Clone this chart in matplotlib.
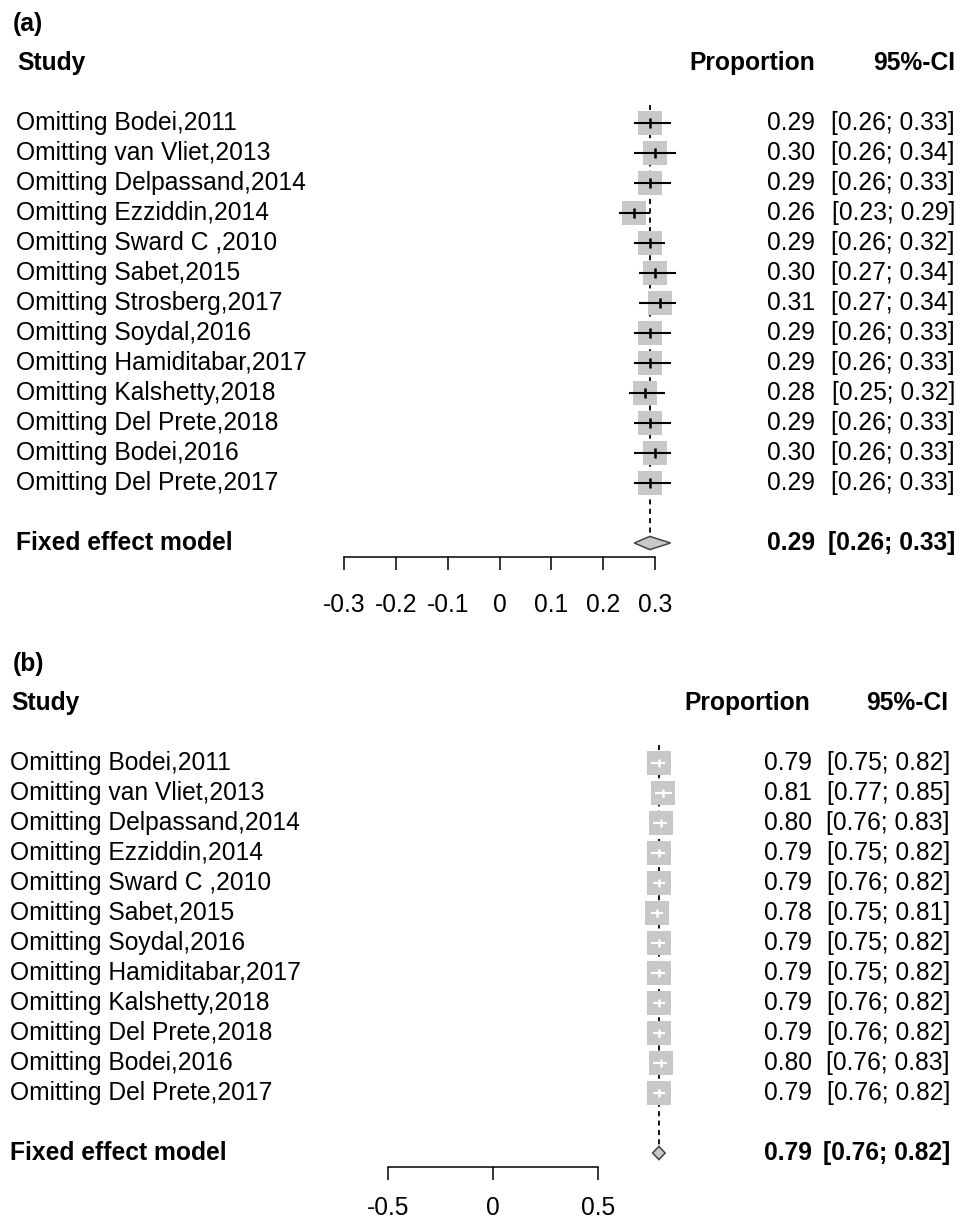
import matplotlib
matplotlib.use("Agg")

import matplotlib.pyplot as plt
from matplotlib import transforms
import numpy as np

plt.rcParams["font.family"] = ["Liberation Sans", "DejaVu Sans"]

# ---------------------------------------------------------------
# data, panel (a)

studies_a = [
    "Omitting Bodei,2011",
    "Omitting van Vliet,2013",
    "Omitting Delpassand,2014",
    "Omitting Ezziddin,2014",
    "Omitting Sward C ,2010",
    "Omitting Sabet,2015",
    "Omitting Strosberg,2017",
    "Omitting Soydal,2016",
    "Omitting Hamiditabar,2017",
    "Omitting Kalshetty,2018",
    "Omitting Del Prete,2018",
    "Omitting Bodei,2016",
    "Omitting Del Prete,2017",
]
prop_a = [0.29, 0.30, 0.29, 0.26, 0.29, 0.30, 0.31, 0.29, 0.29, 0.28, 0.29, 0.30, 0.29]
lower_a = [0.26, 0.26, 0.26, 0.23, 0.26, 0.27, 0.27, 0.26, 0.26, 0.25, 0.26, 0.26, 0.26]
upper_a = [0.33, 0.34, 0.33, 0.29, 0.32, 0.34, 0.34, 0.33, 0.33, 0.32, 0.33, 0.33, 0.33]
fixed_a = [0.29, 0.26, 0.33]
ticks_a = [-0.3, -0.2, -0.1, 0, 0.1, 0.2, 0.3]
ticklabels_a = ["-0.3", "-0.2", "-0.1", "0", "0.1", "0.2", "0.3"]

# data, panel (b)

studies_b = [
    "Omitting Bodei,2011",
    "Omitting van Vliet,2013",
    "Omitting Delpassand,2014",
    "Omitting Ezziddin,2014",
    "Omitting Sward C ,2010",
    "Omitting Sabet,2015",
    "Omitting Soydal,2016",
    "Omitting Hamiditabar,2017",
    "Omitting Kalshetty,2018",
    "Omitting Del Prete,2018",
    "Omitting Bodei,2016",
    "Omitting Del Prete,2017",
]
prop_b = [0.79, 0.81, 0.80, 0.79, 0.79, 0.78, 0.79, 0.79, 0.79, 0.79, 0.80, 0.79]
lower_b = [0.75, 0.77, 0.76, 0.75, 0.76, 0.75, 0.75, 0.75, 0.76, 0.76, 0.76, 0.76]
upper_b = [0.82, 0.85, 0.83, 0.82, 0.82, 0.81, 0.82, 0.82, 0.82, 0.82, 0.83, 0.82]
fixed_b = [0.79, 0.76, 0.82]
ticks_b = [-0.5, 0, 0.5]
ticklabels_b = ["-0.5", "0", "0.5"]

# ---------------------------------------------------------------

W, H = 970, 1224
FS = 17.7
GREY = "#c8c8c8"
BOX_PX = 24


def forest(fig, tag, studies, prop, lower, upper, fixed, ticks, ticklabels,
           top, bottom, zero_px, unit_px, row0_px,
           label_x, value_x, ci_x, head_value_x, head_ci_x, tick_pad):

    row_px = 30.0

    ax = fig.add_axes([0, 1 - bottom / H, 1, (bottom - top) / H])

    ax.set_xlim(-zero_px / unit_px, (W - zero_px) / unit_px)
    ax.set_ylim((bottom - row0_px) / row_px, (top - row0_px) / row_px)

    for side in ["top", "left", "right"]:
        ax.spines[side].set_visible(False)
    ax.set_yticks([])
    ax.patch.set_alpha(0)

    tr = transforms.blended_transform_factory(ax.transAxes, ax.transData)

    rows = np.arange(len(studies))
    prop = np.array(prop)
    lower = np.array(lower)
    upper = np.array(upper)
    fixed_row = len(studies) + 1

    # reference line at the pooled estimate
    ax.vlines(fixed[0], -0.6, fixed_row - 0.25, colors="black",
              linewidth=1.3, linestyles=(0, (2.8, 2.4)), zorder=1)

    # study boxes
    ax.scatter(prop, rows, marker="s", s=(BOX_PX * 0.72) ** 2,
               color=GREY, linewidths=0, zorder=2)

    half = BOX_PX / 2 / unit_px
    inside = ((prop - lower) < half) & ((upper - prop) < half)
    colors = np.where(inside, "white", "black")

    ax.hlines(rows, lower, upper, colors=colors, linewidth=1.5, zorder=3)
    tick_h = np.where(inside, 0.12, 0.16)
    ax.vlines(prop, rows - tick_h, rows + tick_h, colors=colors,
              linewidth=1.8, zorder=3)

    # pooled diamond
    ax.fill([fixed[1], fixed[0], fixed[2], fixed[0]],
            [fixed_row, fixed_row - 0.22, fixed_row, fixed_row + 0.22],
            facecolor=GREY, edgecolor="#444444", linewidth=1.1, zorder=3)

    # x axis under the pooled estimate
    ax.spines["bottom"].set_position(("data", fixed_row + 0.47))
    ax.spines["bottom"].set_bounds(ticks[0], ticks[-1])
    ax.spines["bottom"].set_linewidth(1.1)
    ax.set_xticks(ticks)
    ax.set_xticklabels(ticklabels, fontsize=FS)
    ax.tick_params(axis="x", direction="out", length=9.5, width=1.1,
                   pad=tick_pad)

    # text columns
    ax.text(13 / W, -3.3, tag, transform=tr, fontsize=FS,
            fontweight="bold", va="center", ha="left")
    ax.text((label_x + 1) / W, -2, "Study", transform=tr, fontsize=FS,
            fontweight="bold", va="center", ha="left")
    ax.text(head_value_x / W, -2, "Proportion", transform=tr, fontsize=FS,
            fontweight="bold", va="center", ha="right")
    ax.text(head_ci_x / W, -2, "95%-CI", transform=tr, fontsize=FS,
            fontweight="bold", va="center", ha="right")

    for r, name, p, lo, hi in zip(rows, studies, prop, lower, upper):
        ax.text(label_x / W, r, name, transform=tr, fontsize=FS,
                va="center", ha="left")
        ax.text(value_x / W, r, f"{p:.2f}", transform=tr, fontsize=FS,
                va="center", ha="right")
        ax.text(ci_x / W, r, f"[{lo:.2f}; {hi:.2f}]", transform=tr,
                fontsize=FS, va="center", ha="right")

    ax.text(label_x / W, fixed_row, "Fixed effect model", transform=tr,
            fontsize=FS, fontweight="bold", va="center", ha="left")
    ax.text(value_x / W, fixed_row, f"{fixed[0]:.2f}", transform=tr,
            fontsize=FS, fontweight="bold", va="center", ha="right")
    ax.text(ci_x / W, fixed_row, f"[{fixed[1]:.2f}; {fixed[2]:.2f}]",
            transform=tr, fontsize=FS, fontweight="bold", va="center",
            ha="right")

    return ax


fig = plt.figure(figsize=(W / 100, H / 100), dpi=100)

forest(fig, "(a)", studies_a, prop_a, lower_a, upper_a, fixed_a,
       ticks_a, ticklabels_a,
       top=0, bottom=640, zero_px=499.5, unit_px=518.3, row0_px=123,
       label_x=16, value_x=815, ci_x=955, head_value_x=815, head_ci_x=955,
       tick_pad=16)

forest(fig, "(b)", studies_b, prop_b, lower_b, upper_b, fixed_b,
       ticks_b, ticklabels_b,
       top=640, bottom=1224, zero_px=493, unit_px=210, row0_px=763,
       label_x=10, value_x=812, ci_x=950, head_value_x=810, head_ci_x=948,
       tick_pad=11)

fig.savefig("out.png", dpi=100, facecolor="white")
plt.close(fig)
